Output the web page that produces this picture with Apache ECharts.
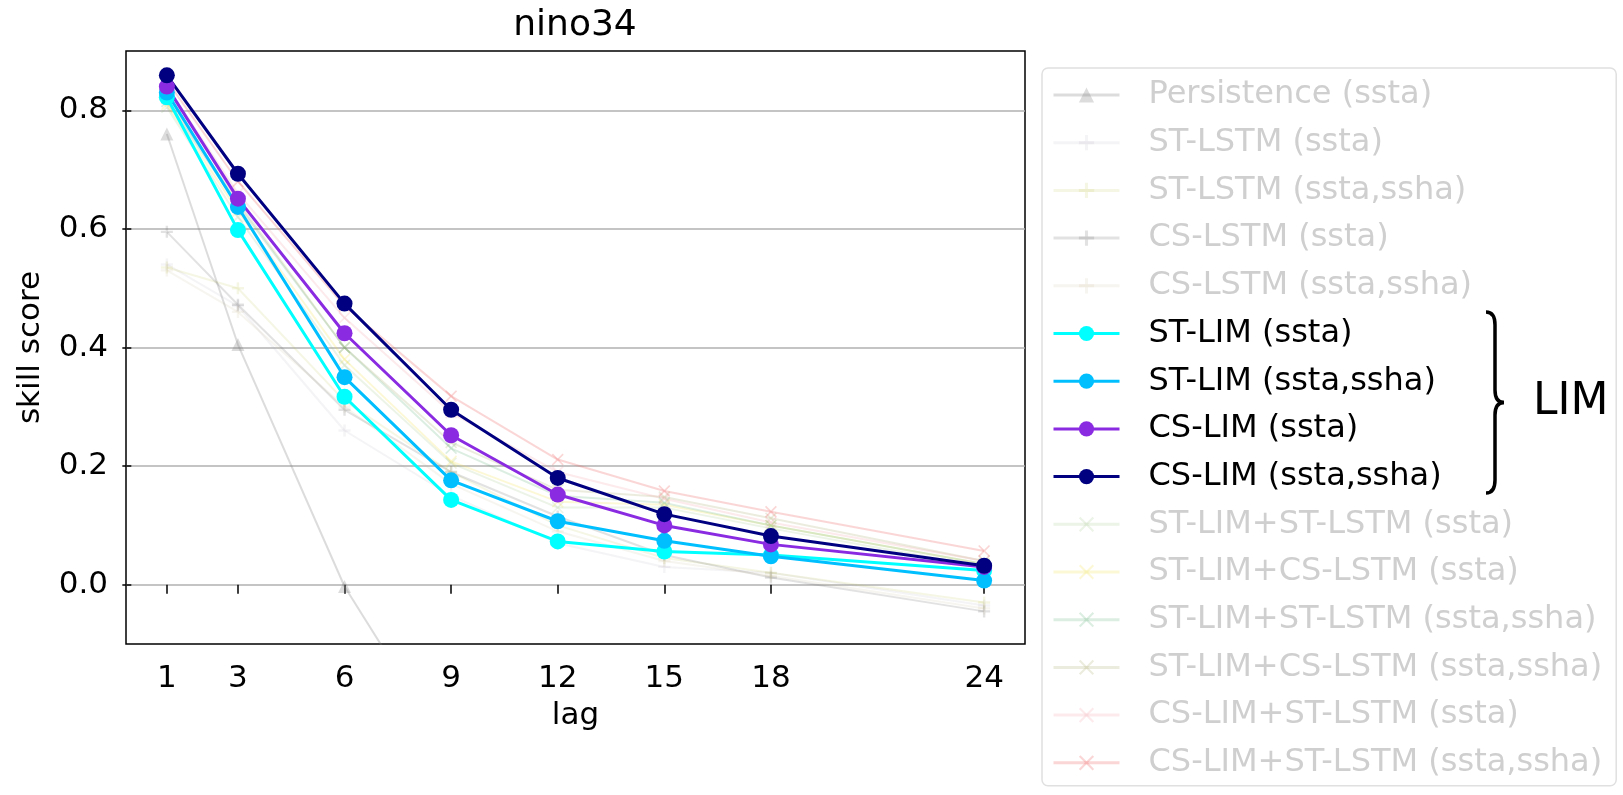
<!DOCTYPE html>
<html>
<head>
<meta charset="utf-8">
<script src="https://cdn.jsdelivr.net/npm/echarts@6/dist/echarts.min.js"></script>
<style>
  html, body { margin: 0; padding: 0; background: #fff; }
  #chart { width: 1623px; height: 795px; }
</style>
</head>
<body>
<div id="chart"></div>
<script>
// lag (months) and tick values
const lags = [1, 3, 6, 9, 12, 15, 18, 24];
const yTicks = [0, 0.2, 0.4, 0.6, 0.8];

// skill score per lag
const persistenceSsta = [0.76, 0.405, -0.003, -0.29, -0.35, -0.3, -0.25, -0.2];
const stLstmSsta = [0.54, 0.47, 0.26, 0.15, 0.07, 0.03, 0.02, -0.035];
const stLstmSstaSsha = [0.535, 0.50, 0.31, 0.19, 0.10, 0.045, 0.02, -0.03];
const csLstmSsta = [0.595, 0.472, 0.295, 0.19, 0.115, 0.05, 0.012, -0.045];
const csLstmSstaSsha = [0.53, 0.46, 0.30, 0.17, 0.09, 0.04, 0.015, -0.04];
const stLimSsta = [0.822, 0.598, 0.317, 0.143, 0.073, 0.056, 0.050, 0.024];
const stLimSstaSsha = [0.830, 0.637, 0.350, 0.176, 0.107, 0.074, 0.048, 0.007];
const csLimSsta = [0.840, 0.651, 0.424, 0.252, 0.152, 0.100, 0.068, 0.030];
const csLimSstaSsha = [0.859, 0.693, 0.474, 0.295, 0.180, 0.119, 0.082, 0.032];
const stLimStLstmSsta = [0.805, 0.62, 0.37, 0.205, 0.13, 0.13, 0.095, 0.03];
const stLimCsLstmSsta = [0.81, 0.63, 0.38, 0.208, 0.14, 0.135, 0.10, 0.035];
const stLimStLstmSstaSsha = [0.815, 0.64, 0.40, 0.23, 0.15, 0.138, 0.10, 0.035];
const stLimCsLstmSstaSsha = [0.82, 0.645, 0.40, 0.24, 0.16, 0.148, 0.112, 0.04];
const csLimStLstmSsta = [0.84, 0.66, 0.45, 0.29, 0.19, 0.145, 0.105, 0.04];
const csLimStLstmSstaSsha = [0.85, 0.68, 0.47, 0.318, 0.211, 0.158, 0.123, 0.057];

const FONT = 'DejaVu Sans';
const PLUS = 'path://M4,0L6,0L6,4L10,4L10,6L6,6L6,10L4,10L4,6L0,6L0,4L4,4Z';
const CROSS = 'path://M1,0L5,4L9,0L10,1L6,5L10,9L9,10L5,6L1,10L0,9L4,5L0,1Z';

// name, values, colour, marker, highlighted?
const seriesDefs = [
  ['Persistence (ssta)', persistenceSsta, 'rgba(128,128,128,0.28)', 'triangle', false],
  ['ST-LSTM (ssta)', stLstmSsta, 'rgba(170,160,175,0.13)', PLUS, false],
  ['ST-LSTM (ssta,ssha)', stLstmSstaSsha, 'rgba(190,200,90,0.16)', PLUS, false],
  ['CS-LSTM (ssta)', csLstmSsta, 'rgba(110,110,110,0.2)', PLUS, false],
  ['CS-LSTM (ssta,ssha)', csLstmSstaSsha, 'rgba(200,185,140,0.14)', PLUS, false],
  ['ST-LIM (ssta)', stLimSsta, '#00ffff', 'circle', true],
  ['ST-LIM (ssta,ssha)', stLimSstaSsha, '#00bfff', 'circle', true],
  ['CS-LIM (ssta)', csLimSsta, '#8a2be2', 'circle', true],
  ['CS-LIM (ssta,ssha)', csLimSstaSsha, '#000080', 'circle', true],
  ['ST-LIM+ST-LSTM (ssta)', stLimStLstmSsta, 'rgba(150,190,120,0.18)', CROSS, false],
  ['ST-LIM+CS-LSTM (ssta)', stLimCsLstmSsta, 'rgba(240,225,70,0.22)', CROSS, false],
  ['ST-LIM+ST-LSTM (ssta,ssha)', stLimStLstmSstaSsha, 'rgba(80,170,110,0.2)', CROSS, false],
  ['ST-LIM+CS-LSTM (ssta,ssha)', stLimCsLstmSstaSsha, 'rgba(160,160,90,0.2)', CROSS, false],
  ['CS-LIM+ST-LSTM (ssta)', csLimStLstmSsta, 'rgba(240,150,160,0.2)', CROSS, false],
  ['CS-LIM+ST-LSTM (ssta,ssha)', csLimStLstmSstaSsha, 'rgba(240,90,90,0.25)', CROSS, false]
];

const series = seriesDefs.map(function (d) {
  const main = d[4];
  return {
    name: d[0],
    type: 'line',
    data: lags.map(function (x, i) { return [x, d[1][i]]; }),
    symbol: d[3],
    symbolSize: main ? 16 : (d[3] === 'triangle' ? 13 : 12),
    showSymbol: true,
    clip: true,
    z: main ? 5 : 2,
    lineStyle: { color: d[2], width: main ? 3 : 2 },
    itemStyle: { color: d[2], borderWidth: 0 },
    emphasis: { disabled: true }
  };
});

const legendData = seriesDefs.map(function (d) {
  return { name: d[0], textStyle: { color: d[4] ? '#000' : '#cfcfcf' } };
});

// brace "}" beside the LIM legend entries
const braceStyle = { stroke: '#000', lineWidth: 3.5, fill: null };
const brace = [
  { type: 'bezierCurve', shape: { x1: 1486, y1: 312, x2: 1495, y2: 325, cpx1: 1492, cpy1: 312, cpx2: 1495, cpy2: 316 } },
  { type: 'line', shape: { x1: 1495, y1: 325, x2: 1495, y2: 390 } },
  { type: 'bezierCurve', shape: { x1: 1495, y1: 390, x2: 1504, y2: 402.5, cpx1: 1495, cpy1: 398, cpx2: 1498, cpy2: 402.5 } },
  { type: 'bezierCurve', shape: { x1: 1504, y1: 402.5, x2: 1495, y2: 415, cpx1: 1498, cpy1: 402.5, cpx2: 1495, cpy2: 407 } },
  { type: 'line', shape: { x1: 1495, y1: 415, x2: 1495, y2: 480 } },
  { type: 'bezierCurve', shape: { x1: 1495, y1: 480, x2: 1486, y2: 493, cpx1: 1495, cpy1: 489, cpx2: 1492, cpy2: 493 } }
].map(function (g) { g.style = braceStyle; g.z = 100; return g; });

var myChart = echarts.init(document.getElementById('chart'), null, { renderer: 'canvas' });

myChart.setOption({
  animation: false,
  backgroundColor: '#fff',
  title: {
    text: 'nino34',
    left: 575,
    top: 8,
    padding: 0,
    textAlign: 'center',
    textStyle: { fontFamily: FONT, fontSize: 36, fontWeight: 'normal', color: '#000' }
  },
  grid: {
    left: 126, top: 51, right: 598, bottom: 151,
    show: true, borderColor: '#000', borderWidth: 1.5,
    outerBoundsMode: 'none'
  },
  xAxis: {
    type: 'value',
    min: -0.15,
    max: 25.15,
    name: 'lag',
    nameLocation: 'middle',
    nameGap: 56,
    nameTextStyle: { fontFamily: FONT, fontSize: 31, color: '#000' },
    axisLine: { show: false },
    axisTick: { show: true, customValues: lags, length: 9, lineStyle: { color: '#000', width: 1.5 } },
    axisLabel: {
      customValues: lags, margin: 19,
      fontFamily: FONT, fontSize: 31, color: '#000'
    },
    splitLine: { show: false }
  },
  yAxis: {
    type: 'value',
    min: -0.1,
    max: 0.9,
    splitNumber: 5,
    name: 'skill score',
    nameLocation: 'middle',
    nameGap: 80,
    nameTextStyle: { fontFamily: FONT, fontSize: 31, color: '#000' },
    axisLine: { show: false },
    axisTick: { show: true, customValues: yTicks, length: 9, lineStyle: { color: '#000', width: 1.5 } },
    axisLabel: {
      customValues: yTicks, margin: 18,
      fontFamily: FONT, fontSize: 31, color: '#000',
      formatter: function (v) { return v.toFixed(1); }
    },
    splitLine: { show: true, lineStyle: { color: '#b0b0b0', width: 1.5 } }
  },
  legend: {
    orient: 'vertical',
    left: 1042,
    top: 68,
    padding: [9, 14, 5, 10],
    itemWidth: 66,
    itemHeight: 19,
    itemGap: 11.7,
    borderColor: '#e0e0e0',
    borderWidth: 1.5,
    borderRadius: 6,
    backgroundColor: '#fff',
    selectedMode: false,
    lineStyle: { width: 3 },
    textStyle: { fontFamily: FONT, fontSize: 32, lineHeight: 36, padding: [0, 0, 0, 24] },
    data: legendData
  },
  graphic: brace.concat([
    {
      type: 'text',
      x: 1533,
      y: 403,
      z: 100,
      style: { text: 'LIM', fontFamily: FONT, fontSize: 44, fill: '#000', verticalAlign: 'middle' }
    }
  ]),
  series: series
});
</script>
</body>
</html>
